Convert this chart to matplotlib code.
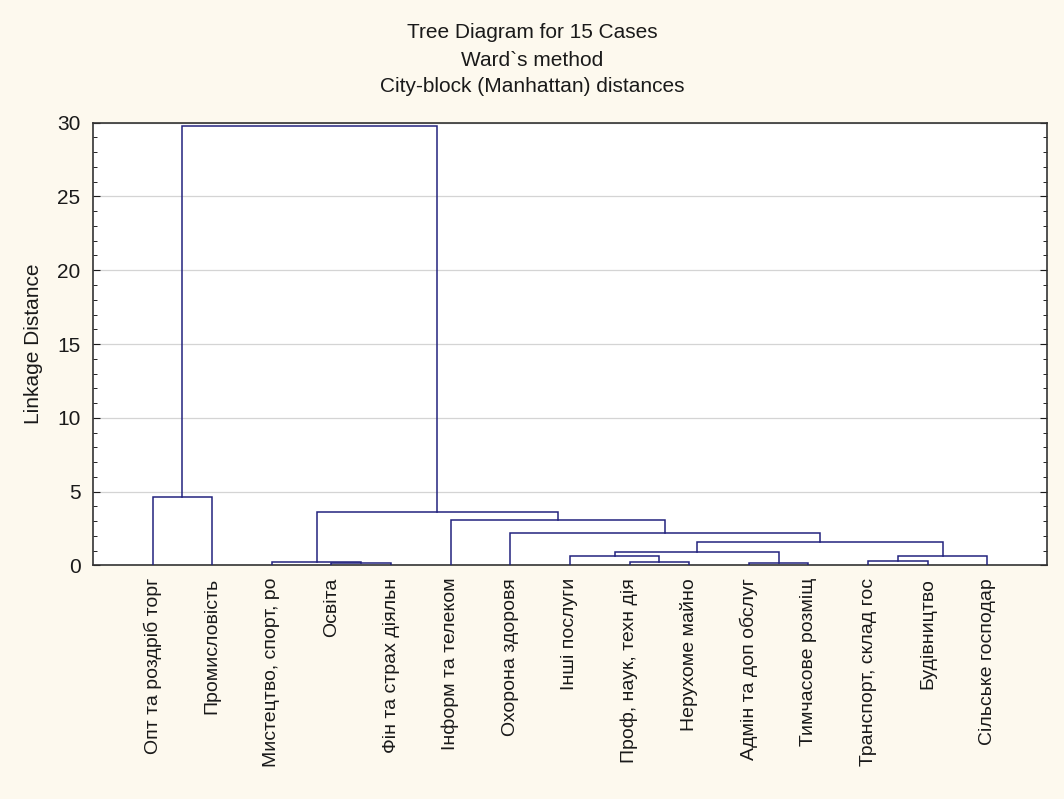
import matplotlib.pyplot as plt
from matplotlib.ticker import MultipleLocator

plt.rcParams['font.family'] = ['Liberation Sans', 'DejaVu Sans']

# leaf labels in the order they appear on the axis
labels = [
    'Опт та роздріб торг', 'Промисловість', 'Мистецтво, спорт, ро', 'Освіта',
    'Фін та страх діяльн', 'Інформ та телеком', 'Охорона здоровя', 'Інші послуги',
    'Проф, наук, техн дія', 'Нерухоме майно', 'Адмін та доп обслуг',
    'Тимчасове розміщ', 'Транспорт, склад гос', 'Будівництво', 'Сільське господар',
]

# merges: ids 0..14 are leaves, 15.. are clusters created in this order
merge_left = [3, 10, 2, 8, 12, 7, 19, 20, 22, 6, 5, 17, 0, 27]
merge_right = [4, 11, 15, 9, 13, 18, 14, 16, 21, 23, 24, 25, 1, 26]
merge_height = [0.13, 0.14, 0.25, 0.24, 0.31, 0.65, 0.65, 0.92, 1.56, 2.17, 3.07, 3.63, 4.65, 29.8]

line_color = '#23237f'
text_color = '#1a1a1a'

fig = plt.figure(figsize=(10.64, 7.99), dpi=100, facecolor='#fdf9ee')
ax = fig.add_axes([0.0874, 0.2925, 0.8966, 0.5539])
ax.set_facecolor('white')

n = len(labels)
xpos = {i: float(i) for i in range(n)}
hgt = {i: 0.0 for i in range(n)}

for k, (a, b, h) in enumerate(zip(merge_left, merge_right, merge_height)):
    node = n + k
    xa, xb = xpos[a], xpos[b]
    ax.plot([xa, xa, xb, xb], [hgt[a], h, h, hgt[b]], color=line_color, lw=1.1,
            solid_joinstyle='miter', zorder=3)
    xpos[node] = (xa + xb) / 2
    hgt[node] = h

ax.set_xlim(-1, n)
ax.set_ylim(0, 30)
ax.set_xticks(range(n))
ax.set_xticklabels(labels, rotation=90, fontsize=14, color=text_color)
ax.tick_params(axis='x', length=0, pad=9)
ax.tick_params(axis='x', which='both', top=True, direction='in')

ax.yaxis.set_major_locator(MultipleLocator(5))
ax.yaxis.set_minor_locator(MultipleLocator(1))
ax.tick_params(axis='y', which='major', direction='in', length=5, labelsize=15,
               right=True, pad=9, colors=text_color)
ax.tick_params(axis='y', which='minor', direction='in', length=3, right=True)

ax.grid(axis='y', color='#d4d4d4', lw=0.9, zorder=0)
for s in ax.spines.values():
    s.set_color('#333333')
    s.set_linewidth(1.2)

ax.set_ylabel('Linkage Distance', fontsize=15, color=text_color, labelpad=10)

fig.text(0.5, 1 - 33 / 799, 'Tree Diagram for 15 Cases', ha='center', va='center',
         fontsize=15, color=text_color)
fig.text(0.5, 1 - 60 / 799, 'Ward`s method', ha='center', va='center',
         fontsize=15, color=text_color)
fig.text(0.5, 1 - 87 / 799, 'City-block (Manhattan) distances', ha='center', va='center',
         fontsize=15, color=text_color)

fig.savefig('out.png', dpi=100, facecolor=fig.get_facecolor())
